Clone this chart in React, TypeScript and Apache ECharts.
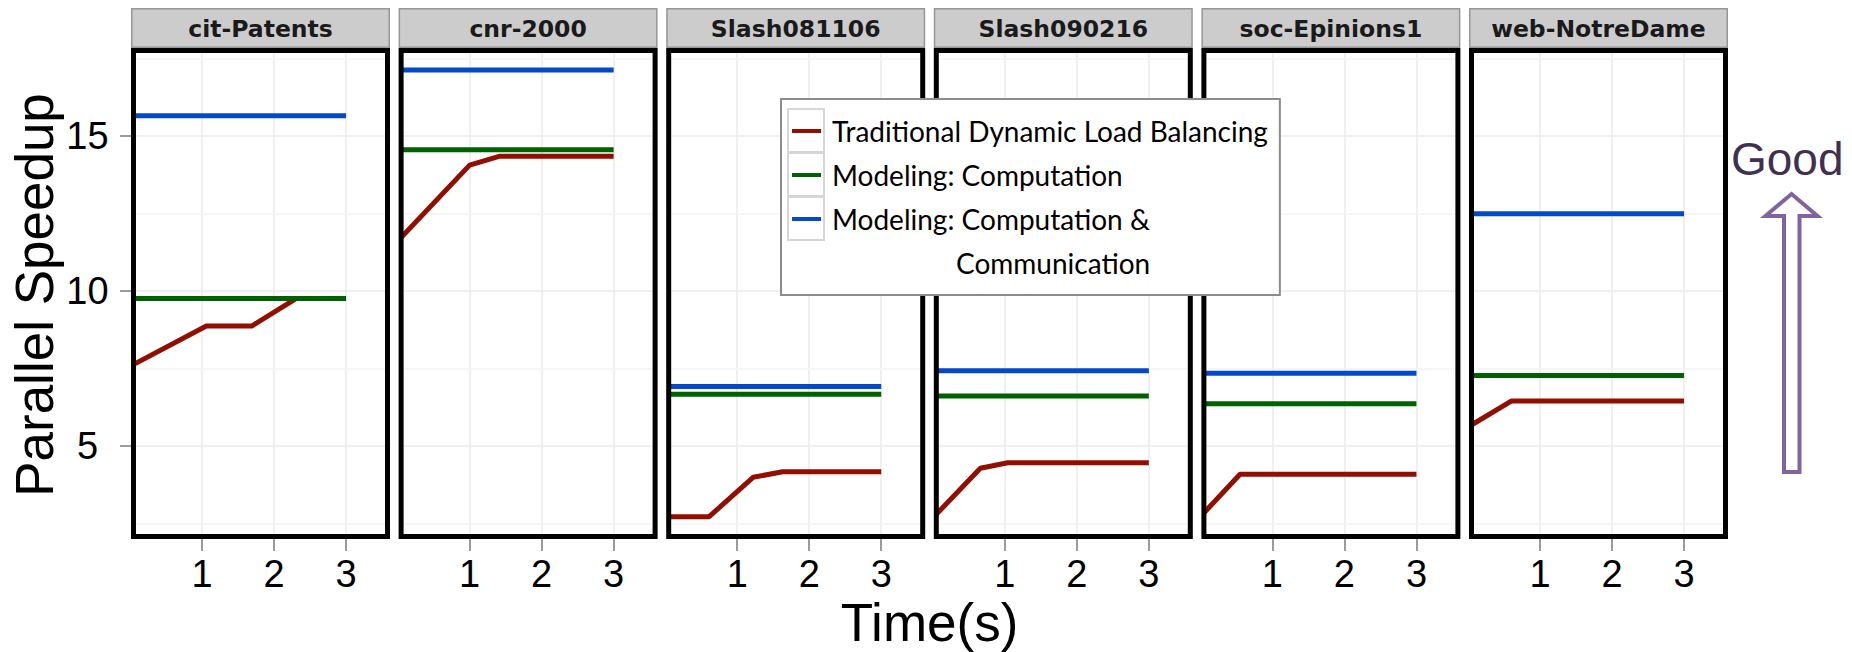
import React, { useEffect, useRef } from "react";
import * as echarts from "echarts";

// Datasets shown as facets, left to right
const datasets = ["cit-Patents", "cnr-2000", "Slash081106", "Slash090216", "soc-Epinions1", "web-NotreDame"];

const seriesNames = [
  "Traditional Dynamic Load Balancing",
  "Modeling: Computation",
  "Modeling: Computation & Communication",
];
const seriesColors = ["#920e00", "#006100", "#0349c9"];

// Traditional dynamic load balancing: speedup over time, one polyline per dataset
const traditionalDLB: number[][][] = [
  [[0, 7.57], [1.06, 8.87], [1.69, 8.87], [2.31, 9.76], [3, 9.76]],
  [[0, 11.61], [1.0, 14.06], [1.42, 14.35], [3, 14.35]],
  [[0, 2.72], [0.61, 2.72], [1.22, 3.99], [1.63, 4.17], [3, 4.17]],
  [[0, 2.68], [0.66, 4.28], [1.04, 4.46], [3, 4.46]],
  [[0, 2.72], [0.55, 4.09], [3, 4.09]],
  [[0, 5.61], [0.6, 6.45], [3, 6.45]],
];

// Model predictions (constant over time)
const modelComputation = [9.76, 14.56, 6.67, 6.61, 6.36, 7.27];
const modelCompComm = [15.65, 17.13, 6.92, 7.43, 7.35, 12.49];
const modelTimeSpan = [0, 3];

// Axes
const xRange = [0.083, 3.541];
const yRange = [2.161, 17.677];
const xTicks = [1, 2, 3];
const yTicks = [5, 10, 15];
const yMinorBreaks = [2.5, 7.5, 12.5, 17.5];

const FONT = '"Liberation Sans", Arial, sans-serif';
const STRIP_FONT = '"DejaVu Sans", sans-serif';
const LEGEND_FONT = "Lato, sans-serif";
const LEGEND_SIZE = 28;

const PANEL_X0 = 131;
const PANEL_STEP = 267.6;
const PANEL_W = 259;
const BORDER = 5;
const PANEL_TOP = 48;
const PANEL_BOTTOM = 539;

function panelLeft(i: number) {
  return PANEL_X0 + i * PANEL_STEP;
}

function buildOption() {
  const grid: any[] = [];
  const xAxis: any[] = [];
  const yAxis: any[] = [];
  const series: any[] = [];
  const graphics: any[] = [];

  datasets.forEach((name, i) => {
    const L = panelLeft(i);
    grid.push({
      left: L + BORDER,
      top: PANEL_TOP + BORDER,
      width: PANEL_W - 2 * BORDER,
      height: PANEL_BOTTOM - PANEL_TOP - 2 * BORDER,
    });
    xAxis.push({
      type: "value",
      gridIndex: i,
      min: xRange[0],
      max: xRange[1],
      splitNumber: 3,
      axisLine: { show: false },
      axisTick: {
        show: true,
        customValues: xTicks,
        length: 17,
        lineStyle: { color: "#7a7a7a", width: 1.5 },
      },
      axisLabel: {
        customValues: xTicks,
        fontSize: 38,
        fontFamily: FONT,
        color: "#000",
        margin: 21,
      },
      splitLine: { show: true, lineStyle: { color: "#ebebeb", width: 1.5 } },
    });
    yAxis.push({
      type: "value",
      gridIndex: i,
      min: yRange[0],
      max: yRange[1],
      splitNumber: 3,
      axisLine: { show: false },
      axisTick: {
        show: i === 0,
        customValues: yTicks,
        length: 16,
        lineStyle: { color: "#7a7a7a", width: 1.5 },
      },
      axisLabel: {
        show: i === 0,
        customValues: yTicks,
        fontSize: 38,
        fontFamily: FONT,
        color: "#000",
        align: "center",
        margin: 48.5,
      },
      splitLine: { show: true, lineStyle: { color: "#ebebeb", width: 1.5 } },
    });

    const lineBase = {
      type: "line",
      xAxisIndex: i,
      yAxisIndex: i,
      symbol: "none",
      showSymbol: false,
      silent: true,
      clip: true,
    };
    series.push({
      ...lineBase,
      name: seriesNames[0],
      data: traditionalDLB[i],
      lineStyle: { width: 5, color: seriesColors[0], cap: "butt" },
      itemStyle: { color: seriesColors[0] },
      z: 2,
      markLine: {
        silent: true,
        symbol: "none",
        label: { show: false },
        lineStyle: { color: "#f3f3f3", width: 1.5, type: "solid" },
        data: yMinorBreaks.map((v) => ({ yAxis: v })),
        z: 1,
      },
    });
    series.push({
      ...lineBase,
      name: seriesNames[1],
      data: modelTimeSpan.map((t) => [t, modelComputation[i]]),
      lineStyle: { width: 5, color: seriesColors[1], cap: "butt" },
      itemStyle: { color: seriesColors[1] },
      z: 3,
    });
    series.push({
      ...lineBase,
      name: seriesNames[2],
      data: modelTimeSpan.map((t) => [t, modelCompComm[i]]),
      lineStyle: { width: 5, color: seriesColors[2], cap: "butt" },
      itemStyle: { color: seriesColors[2] },
      z: 4,
    });

    // facet strip
    graphics.push({
      type: "rect",
      z: 40,
      shape: { x: L + 0.75, y: 8.75, width: PANEL_W - 1.5, height: 38.5 },
      style: { fill: "#cccccc", stroke: "#969696", lineWidth: 1.5 },
    });
    graphics.push({
      type: "text",
      z: 41,
      x: L + PANEL_W / 2,
      y: 29,
      style: {
        text: name,
        font: `bold 23.5px ${STRIP_FONT}`,
        fill: "#1a1a1a",
        textAlign: "center",
        textVerticalAlign: "middle",
      },
    });
    // panel border
    graphics.push({
      type: "rect",
      z: 50,
      shape: {
        x: L + BORDER / 2,
        y: PANEL_TOP + BORDER / 2,
        width: PANEL_W - BORDER,
        height: PANEL_BOTTOM - PANEL_TOP - BORDER,
      },
      style: { fill: "none", stroke: "#000", lineWidth: BORDER },
    });
  });

  // axis titles
  graphics.push({
    type: "text",
    z: 41,
    x: 929.5,
    y: 622,
    style: {
      text: "Time(s)",
      font: `53px ${FONT}`,
      fill: "#000",
      textAlign: "center",
      textVerticalAlign: "middle",
    },
  });
  graphics.push({
    type: "text",
    z: 41,
    x: 34.6,
    y: 295,
    rotation: Math.PI / 2,
    style: {
      text: "Parallel Speedup",
      font: `53px ${FONT}`,
      fill: "#000",
      textAlign: "center",
      textVerticalAlign: "middle",
    },
  });

  // legend key frames and the wrapped part of the last label
  [0, 1, 2].forEach((k) => {
    graphics.push({
      type: "rect",
      z: 70,
      shape: { x: 788, y: 109 + 44 * k, width: 36, height: 43 },
      style: { fill: "none", stroke: "#d6d6d6", lineWidth: 2 },
    });
  });
  graphics.push({
    type: "text",
    z: 70,
    x: 956,
    y: 263,
    style: {
      text: "Communication",
      font: `${LEGEND_SIZE}px ${LEGEND_FONT}`,
      fill: "#000",
      textAlign: "left",
      textVerticalAlign: "middle",
    },
  });

  // "Good" direction marker
  graphics.push({
    type: "text",
    z: 41,
    x: 1731,
    y: 159,
    style: {
      text: "Good",
      font: `46px ${FONT}`,
      fill: "#3f3151",
      textAlign: "left",
      textVerticalAlign: "middle",
    },
  });
  graphics.push({
    type: "polygon",
    z: 41,
    shape: {
      points: [
        [1791.5, 194],
        [1817.5, 216],
        [1799.5, 216],
        [1799.5, 472],
        [1784, 472],
        [1784, 216],
        [1765.5, 216],
      ],
    },
    style: { fill: "#fff", stroke: "#8064a2", lineWidth: 4, lineJoin: "miter" },
  });

  return {
    animation: false,
    backgroundColor: "#fff",
    grid,
    xAxis,
    yAxis,
    series,
    legend: {
      show: true,
      data: seriesNames,
      orient: "vertical",
      left: 781,
      top: 99,
      padding: [10, 12, 54, 11],
      itemWidth: 29,
      itemHeight: 4,
      itemGap: 0,
      icon: "rect",
      selectedMode: false,
      backgroundColor: "#fff",
      borderColor: "#8c8c8c",
      borderWidth: 2,
      z: 60,
      formatter: (n: string) => (n === seriesNames[2] ? "Modeling: Computation &" : n),
      textStyle: {
        fontFamily: LEGEND_FONT,
        fontSize: LEGEND_SIZE,
        color: "#000",
        lineHeight: 44,
        padding: [0, 0, 0, 6],
      },
    },
    graphic: { elements: graphics },
  };
}

export default function App() {
  const ref = useRef<HTMLDivElement>(null);
  useEffect(() => {
    if (!ref.current) return;
    const chart = echarts.init(ref.current, null, { renderer: "svg" });
    chart.setOption(buildOption() as any);
    return () => chart.dispose();
  }, []);
  return (
    <div
      ref={ref}
      style={{ position: "fixed", left: 0, top: 0, width: 1852, height: 652, background: "#fff" }}
    />
  );
}
